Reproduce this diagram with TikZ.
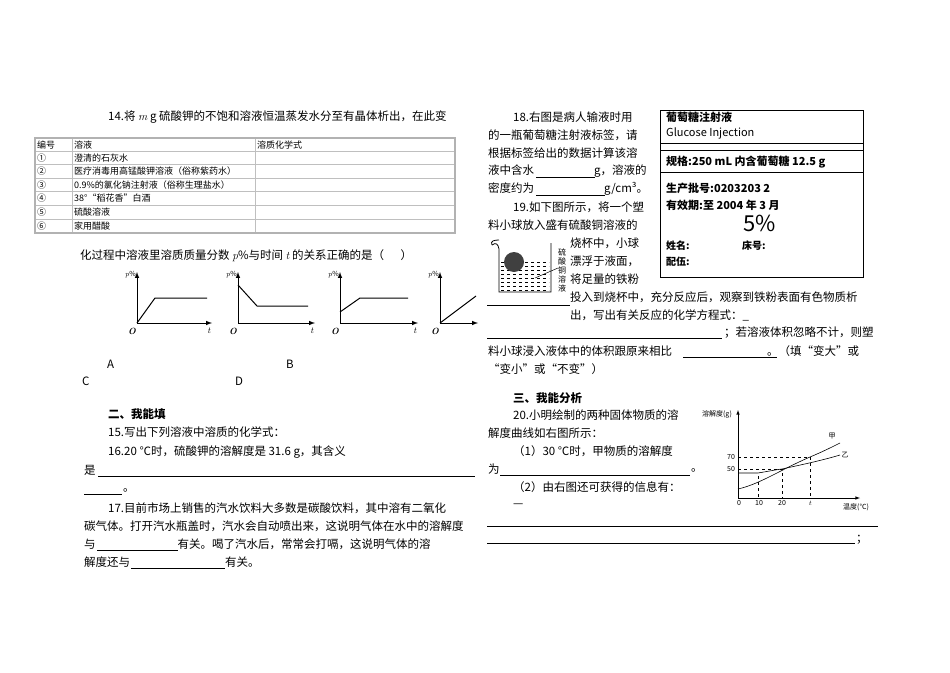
\documentclass[tikz,border=0pt]{standalone}
\usepackage{fontspec}
\setmainfont{Noto Sans CJK SC}
\newfontfamily\lmr{Latin Modern Roman}
\newcommand{\vi}[1]{{\lmr\itshape #1}}
\begin{document}
\begin{tikzpicture}[x=1pt,y=-1pt,
  tx/.style={anchor=west,inner sep=0pt,font=\fontsize{11.5}{13}\selectfont},
  sm/.style={anchor=west,inner sep=0pt,font=\fontsize{9}{10}\selectfont},
  tiny/.style={inner sep=0pt,font=\fontsize{7}{8}\selectfont},
  bold/.style={tx,font=\fontsize{11.5}{13}\selectfont\bfseries},
  ul/.style={line width=0.5pt},
  ax/.style={line width=1pt,-latex},
  gl/.style={line width=1pt},
  dsh/.style={dashed,line width=0.4pt}]
\useasboundingbox (0,0) rectangle (950,672);
% ---------- left column ----------
\node[tx] (q14) at (108,117) {14.将 \vi{m} g 硫酸钾的不饱和溶液恒温蒸发水分至有晶体析出，在此变};
% table
\draw[gray!60,line width=1.5pt] (35,138) rectangle (455,233);
\foreach \y in {151,164,178,191,205,219} \draw[gray!50,line width=1pt] (36,\y) -- (454,\y);
\draw[gray!50,line width=1pt] (72,139) -- (72,232);
\draw[gray!50,line width=1pt] (255,139) -- (255,232);
\node[sm] (h1) at (37,145) {编号};
\node[sm] (h2) at (74,145) {溶液};
\node[sm] (h3) at (257,145) {溶质化学式};
\node[sm] (r1) at (37,158) {①}; \node[sm] (s1) at (74,158) {澄清的石灰水};
\node[sm] (r2) at (37,171) {②}; \node[sm] (s2) at (74,171) {医疗消毒用高锰酸钾溶液（俗称紫药水）};
\node[sm] (r3) at (37,185) {③}; \node[sm] (s3) at (74,185) {0.9\%的氯化钠注射液（俗称生理盐水）};
\node[sm] (r4) at (37,198) {④}; \node[sm] (s4) at (74,198) {38°“稻花香”白酒};
\node[sm] (r5) at (37,212) {⑤}; \node[sm] (s5) at (74,212) {硫酸溶液};
\node[sm] (r6) at (37,226) {⑥}; \node[sm] (s6) at (74,226) {家用醋酸};
\node[tx] (q14b) at (80,256) {化过程中溶液里溶质质量分数 \vi{p}\%与时间 \vi{t} 的关系正确的是（\quad\ \ ）};
% graphs
\foreach \ox/\ex in {137/212,238/315,340/418,440/478}{
  \draw[ax] (\ox,323) -- (\ox,272);
  \draw[ax] (\ox,323) -- (\ex,323);
  \node[tiny,anchor=east] at (\ox-1,275) {\vi{p}\%};
  \node[tiny,font=\fontsize{9}{9}\selectfont\lmr\bfseries\itshape] at (\ox-5,331) {O};
}
\foreach \ex in {209,312,415} \node[tiny,font=\fontsize{9}{9}\selectfont] at (\ex,331) {\vi{t}};
\draw[gl] (137,323) -- (155,298) -- (207,298);
\draw[gl] (238,285) -- (257,306) -- (308,306);
\draw[gl] (340,312) -- (360,298) -- (408,298);
\draw[gl] (440,323) -- (476,296);
\node[tx] (la) at (107,364) {A};
\node[tx] (lb) at (286,364) {B};
\node[tx] (lc) at (82,381) {C};
\node[tx] (ld) at (235,381) {D};
\node[bold] (s2t) at (108,414) {二、我能填};
\node[tx] (q15) at (108,432) {15.写出下列溶液中溶质的化学式：};
\node[tx] (q16) at (108,452) {16.20 ℃时，硫酸钾的溶解度是 31.6 g，其含义};
\node[tx] (q16b) at (84,470) {是};
\draw[ul] (98,476) -- (475,476);
\draw[ul] (84,494) -- (122,494);
\node[tx] (q16c) at (123,490) {。};
\node[tx] (q17) at (108,508) {17.目前市场上销售的汽水饮料大多数是碳酸饮料，其中溶有二氧化};
\node[tx] (q17b) at (84,526) {碳气体。打开汽水瓶盖时，汽水会自动喷出来，这说明气体在水中的溶解度};
\node[tx] (q17c) at (84,544) {与\hspace{82pt}有关。喝了汽水后，常常会打嗝，这说明气体的溶};
\draw[ul] (97,550) -- (178,550);
\node[tx] (q17d) at (84,562) {解度还与\hspace{95pt}有关。};
\draw[ul] (131,568) -- (225,568);
% ---------- right column ----------
\node[tx] (q18) at (513,117) {18.右图是病人输液时用};
\node[tx] (q18b) at (488,135) {的一瓶葡萄糖注射液标签，请};
\node[tx] (q18c) at (488,153) {根据标签给出的数据计算该溶};
\node[tx] (q18d) at (488,171) {液中含水\hspace{60pt}g，溶液的};
\draw[ul] (536,177) -- (595,177);
\node[tx] (q18e) at (488,189) {密度约为\hspace{70pt}g/cm³。};
\draw[ul] (536,195) -- (605,195);
% label box
\draw[line width=1pt] (660,110) rectangle (863,277);
\draw[line width=0.6pt] (660,143) -- (863,143);
\draw[line width=0.6pt] (660,150) -- (863,150);
\draw[line width=0.6pt] (660,172) -- (863,172);
\node[tx,font=\fontsize{11}{12}\selectfont\bfseries] (g1) at (666,117) {葡萄糖注射液};
\node[tx,font=\fontsize{11}{12}\selectfont] (g2) at (666,133) {Glucose Injection};
\node[tx,font=\fontsize{11}{12}\selectfont\bfseries] (g3) at (666,162) {规格:250 mL 内含葡萄糖 12.5 g};
\node[tx,font=\fontsize{11}{12}\selectfont\bfseries] (g4) at (666,188) {生产批号:0203203 2};
\node[tx,font=\fontsize{11}{12}\selectfont\bfseries] (g5) at (666,205) {有效期:至 2004 年 3 月};
\node[inner sep=0pt,font=\fontsize{22}{24}\selectfont] (g6) at (760,223) {5\%};
\node[tx,font=\fontsize{10}{12}\selectfont\bfseries] (g7) at (666,246) {姓名:};
\node[tx,font=\fontsize{10}{12}\selectfont\bfseries] (g8) at (742,246) {床号:};
\node[tx,font=\fontsize{10}{12}\selectfont\bfseries] (g9) at (666,262) {配伍:};
\node[tx] (q19) at (513,207) {19.如下图所示，将一个塑};
\node[tx] (q19b) at (488,225) {料小球放入盛有硫酸铜溶液的};
\node[tx] (q19c) at (570,243) {烧杯中，小球};
\node[tx] (q19d) at (570,261) {漂浮于液面，};
\node[tx] (q19e) at (570,279) {将足量的铁粉};
\node[tx] (q19f) at (570,297) {投入到烧杯中，充分反应后，观察到铁粉表面有色物质析};
\node[tx] (q19g) at (570,315) {出，写出有关反应的化学方程式：\_};
\draw[ul] (487,305) -- (570,305);
% beaker
\draw[line width=0.8pt] (492,245) .. controls (496,242) and (498,244) .. (499,249) -- (499,292) -- (551,292) -- (551,243);
\draw[line width=0.8pt] (492,245) .. controls (490,241) and (494,240) .. (499,240);
\foreach \y in {262,266,270,274,278,282,286,290} \draw[dashed,line width=0.4pt] (501,\y) -- (549,\y);
\fill[black!75] (514,262) circle (10);
\draw[line width=0.5pt] (535,278) -- (558,268);
\node[inner sep=0pt,font=\fontsize{8}{9}\selectfont,align=center] (cu) at (562,270) {硫\\酸\\铜\\溶\\液};
\draw[ul] (487,338) -- (722,338);
\node[tx] (q19h) at (724,333) {；若溶液体积忽略不计，则塑};
\node[tx] (q19i) at (488,351) {料小球浸入液体中的体积跟原来相比\hspace{95pt}。（填“变大”或};
\draw[ul] (683,357) -- (777,357);
\node[tx] (q19j) at (488,369) {“变小”或“不变”）};
\node[bold] (s3t) at (513,398) {三、我能分析};
\node[tx] (q20) at (513,415) {20.小明绘制的两种固体物质的溶};
\node[tx] (q20b) at (488,433) {解度曲线如右图所示：};
\node[tx] (q20c) at (513,451) {（1）30 ℃时，甲物质的溶解度};
\node[tx] (q20d) at (488,469) {为};
\draw[ul] (500,475) -- (690,475);
\node[tx] (q20e) at (691,470) {。};
\node[tx] (q20f) at (513,487) {（2）由右图还可获得的信息有：};
\node[tx] (q20g) at (513,506) {—};
\draw[ul] (487,526) -- (878,526);
\draw[ul] (487,543) -- (855,543);
\node[tx] (q20h) at (856,540) {；};
% solubility graph
\draw[line width=0.6pt,-latex] (738,498) -- (738,410);
\draw[line width=0.6pt,-latex] (738,498) -- (860,498);
\draw[dsh] (738,457) -- (810,457) -- (810,498);
\draw[dsh] (738,469) -- (782,469) -- (782,498);
\draw[dsh] (758,476) -- (758,498);
\draw[line width=0.6pt] (738,489) .. controls (760,484) and (780,470) .. (810,457) .. controls (822,452) and (832,447) .. (840,443);
\draw[line width=0.6pt] (738,473) -- (758,473) .. controls (770,471) and (780,469) .. (782,469) .. controls (800,465) and (820,461) .. (840,455);
\node[tiny] (ya) at (717,414) {溶解度(g)};
\node[tiny] (xa) at (856,507) {温度(℃)};
\node[tiny] (jia) at (832,436) {甲};
\node[tiny] (yi) at (845,455) {乙};
\node[tiny] (n70) at (731,457) {70};
\node[tiny] (n50) at (731,469) {50};
\node[tiny] (n0) at (739,503) {0};
\node[tiny] (n10) at (759,503) {10};
\node[tiny] (n20) at (782,503) {20};
\node[tiny] (nt) at (810,503) {\vi{t}};
\end{tikzpicture}
\end{document}
